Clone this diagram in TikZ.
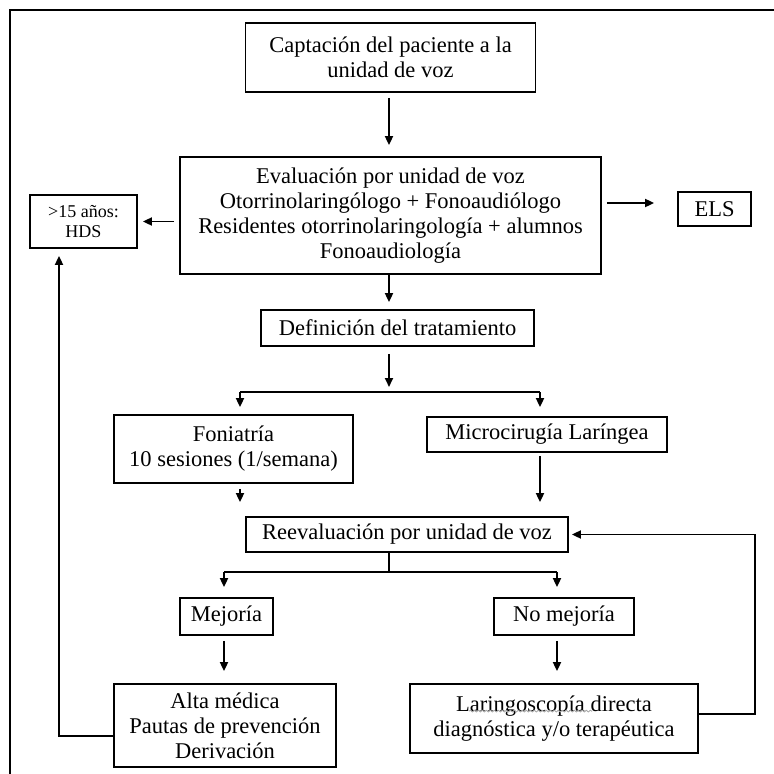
\documentclass[tikz,border=0pt]{standalone}
\usepackage{fontspec}
\setmainfont{Liberation Serif}
\usetikzlibrary{arrows.meta,calc,decorations.pathmorphing}
\def\boxline{1.8pt}
\def\txtsize{\fontsize{22.5}{25}\selectfont}

\begin{document}
\begin{tikzpicture}[x=1pt, y=-1pt, line width=1.8pt,
                    every node/.style={font=\txtsize, align=center, inner sep=0pt},
                    box/.style 2 args={draw, line width=\boxline, minimum width=#1, minimum height=#2},
                    arr/.style={-{Triangle[length=9pt,width=8pt]}}]
    \useasboundingbox (0,0) rectangle (774,774);
    \draw[line width=2.2pt] (776,10) -- (10,10) -- (10,776);
    % boxes
    \node[box={290pt}{69pt}] (cap) at (390.5,57.5) {Captación del paciente a la\\unidad de voz};
    \node[box={421pt}{117pt}] (eval) at (390.5,215.5) {Evaluación por unidad de voz\\Otorrinolaringólogo + Fonoaudiólogo\\Residentes otorrinolaringología + alumnos\\Fonoaudiología};
    \node[box={107pt}{53pt}, font=\fontsize{18}{20}\selectfont] (hds) at (83.5,221.5) {>15 años:\\HDS};
    \node[box={73pt}{34pt}] (els) at (714.5,209) {ELS};
    \node[box={273pt}{36pt}] (def) at (397.5,328) {Definición del tratamiento};
    \node[box={239pt}{68pt}] (foni) at (233.5,449) {Foniatría\\10 sesiones (1/semana)};
    \node[box={240pt}{35pt}] (micro) at (547,434.5) {Microcirugía Laríngea};
    \node[box={322pt}{35pt}] (reev) at (407,534.5) {Reevaluación por unidad de voz};
    \node[box={93pt}{37pt}] (mej) at (226.5,616.5) {Mejoría};
    \node[box={140pt}{37pt}] (nomej) at (564,616.5) {No mejoría};
    \node[box={222pt}{83pt}] (alta) at (225,725.5) {Alta médica\\Pautas de prevención\\Derivación};
    \node[box={288pt}{69pt}] (lar) at (554,718.5) {Laringoscopía directa\\diagnóstica y/o terapéutica};
    % spell-check squiggle under the first word
    \draw[gray!70, line width=0.8pt, decorate, decoration={snake, amplitude=0.9pt, segment length=4pt}]
        ($(lar.north west)+(60,28)$) -- ($(lar.north west)+(183,28)$);
    % branch points
    \coordinate (split1) at (389,392);
    \coordinate (brl1) at (240,392);
    \coordinate (brr1) at (540,392);
    \coordinate (split2) at (389,572);
    \coordinate (brl2) at (224,572);
    \coordinate (brr2) at (557,572);
    \coordinate (loopl) at (59,736);
    \coordinate (loopr) at (755,714);
    % connectors
    \draw[arr, shorten <=5pt, shorten >=11pt] (cap.south -| split1) -- (eval.north -| split1);
    \draw[arr, shorten >=7pt] (eval.south -| split1) -- (def.north -| split1);
    \draw[arr, shorten <=5pt, shorten >=5pt] (eval.west |- hds.east) -- (hds.east);
    \draw[arr, shorten <=5pt, shorten >=23pt] (eval.east |- 0,203) -- (els.west |- 0,203);
    \draw[arr, shorten <=7pt, shorten >=5pt] (def.south -| split1) -- (split1);
    \draw (brl1) -- (brr1);
    \draw[arr, shorten >=7pt] (brl1) -- (brl1 |- foni.north);
    \draw[arr, shorten >=9pt] (brr1) -- (brr1 |- micro.north);
    \draw[arr, shorten <=5pt, shorten >=14pt] (foni.south -| brl1) -- (reev.north -| brl1);
    \draw[arr, shorten <=3pt, shorten >=14pt] (micro.south -| brr1) -- (reev.north -| brr1);
    \draw (reev.south -| split2) -- (split2);
    \draw (brl2) -- (brr2);
    \draw[arr, shorten >=10pt] (brl2) -- (brl2 |- mej.north);
    \draw[arr, shorten >=10pt] (brr2) -- (brr2 |- nomej.north);
    \draw[arr, shorten <=5pt, shorten >=12pt] (mej.south -| brl2) -- (alta.north -| brl2);
    \draw[arr, shorten <=5pt, shorten >=12pt] (nomej.south -| brr2) -- (lar.north -| brr2);
    \draw[arr, shorten >=3pt] (lar.east |- loopr) -- (loopr) |- (reev.east);
    \draw[arr, shorten >=7pt] (alta.west |- loopl) -- (loopl) -- (loopl |- hds.south);
\end{tikzpicture}
\end{document}
